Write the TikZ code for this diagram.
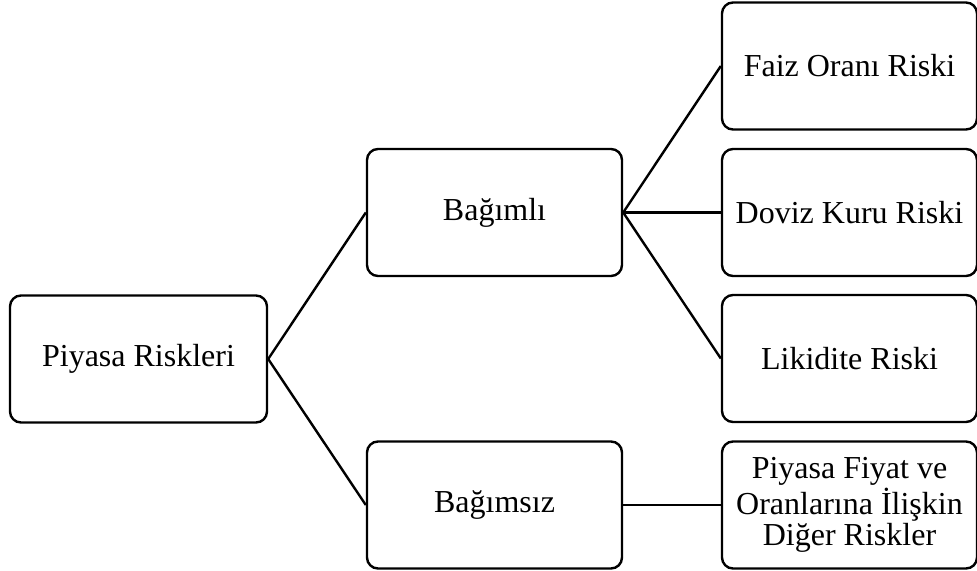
\documentclass[tikz,border=0pt]{standalone}
\usepackage{fontspec}
\setmainfont{Liberation Serif}
\usepackage{tikz}

\tikzset{
	kutu/.style={draw, line width=1.2pt, rounded corners=5.5pt, minimum width=127.5pt, minimum height=63.5pt, align=center, inner sep=2pt, font=\fontsize{16}{15.8}\selectfont},
	bag/.style={line width=1.2pt}
}

\begin{document}
\begin{tikzpicture}[x=0.5pt, y=-0.5pt]
	\useasboundingbox (0,0) rectangle (977,571);
	\node[kutu, minimum width=128.5pt] (piyasa) at (138.5,359) {Piyasa Riskleri};
	\node[kutu] (bagimli) at (494.5,212.5) {Bağımlı};
	\node[kutu] (bagimsiz) at (494.5,505) {Bağımsız};
	\node[kutu] (faiz) at (849.5,66) {Faiz Oranı Riski};
	\node[kutu] (doviz) at (849.5,212.5) {Doviz Kuru Riski};
	\node[kutu] (likidite) at (849.5,358.5) {Likidite Riski};
	\node[kutu] (diger) at (849.5,505) {Piyasa Fiyat ve\\Oranlarına İlişkin\\Diğer Riskler};
	\draw[bag] (piyasa.east) -- (bagimli.west);
	\draw[bag] (piyasa.east) -- (bagimsiz.west);
	\draw[bag] (bagimli.east) -- (faiz.west);
	\draw[bag] (bagimli.east) -- (doviz.west);
	\draw[bag] (bagimli.east) -- (likidite.west);
	\draw[bag] (bagimsiz.east) -- (diger.west);
\end{tikzpicture}
\end{document}
